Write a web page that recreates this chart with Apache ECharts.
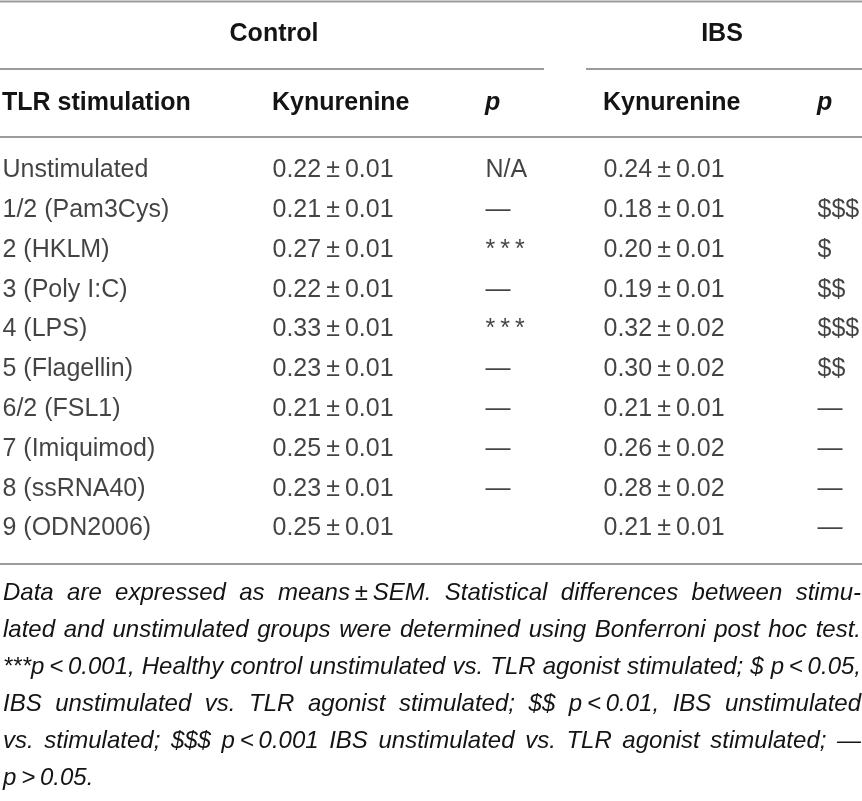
<!DOCTYPE html>
<html><head><meta charset="utf-8">
<script src="https://cdn.jsdelivr.net/npm/echarts@6/dist/echarts.min.js"></script>
<style>html,body{margin:0;padding:0;background:#fff}#c{width:862px;height:801px}</style>
</head><body><div id="c"></div>
<script>
// ---- data ----
const stimulations = ['Unstimulated','1/2 (Pam3Cys)','2 (HKLM)','3 (Poly I:C)','4 (LPS)','5 (Flagellin)','6/2 (FSL1)','7 (Imiquimod)','8 (ssRNA40)','9 (ODN2006)'];
const controlMean = [0.22,0.21,0.27,0.22,0.33,0.23,0.21,0.25,0.23,0.25];
const controlSem  = [0.01,0.01,0.01,0.01,0.01,0.01,0.01,0.01,0.01,0.01];
const controlP    = ['N/A','—','***','—','***','—','—','—','—',''];
const ibsMean     = [0.24,0.18,0.20,0.19,0.32,0.30,0.21,0.26,0.28,0.21];
const ibsSem      = [0.01,0.01,0.01,0.01,0.02,0.02,0.01,0.02,0.02,0.01];
const ibsP        = ['','$$$','$','$$','$$$','$$','—','—','—','—'];
const groupHeaders = ['Control','IBS'];
const columnHeaders = ['TLR stimulation','Kynurenine','p','Kynurenine','p'];
const footnoteLines = [
  ['Data','are','expressed','as','means\u2009±\u2009SEM.','Statistical','differences','between','stimu-'],
  ['lated','and','unstimulated','groups','were','determined','using','Bonferroni','post','hoc','test.'],
  ['***p\u2009<\u20090.001,','Healthy','control','unstimulated','vs.','TLR','agonist','stimulated;','$','p\u2009<\u20090.05,'],
  ['IBS','unstimulated','vs.','TLR','agonist','stimulated;','$$','p\u2009<\u20090.01,','IBS','unstimulated'],
  ['vs.','stimulated;','$$$','p\u2009<\u20090.001','IBS','unstimulated','vs.','TLR','agonist','stimulated;','—'],
  ['p\u2009>\u20090.05.']
];

// ---- layout / style ----
const W = 862;
const FONT = '"Liberation Sans", Arial, Helvetica, sans-serif';
const TXT = '#141414';
const RULE = '#9c9c9c';
const FS = 25, FNS = 24;
const colX = [2, 272, 485, 603, 817];

function fmt(m, s){ return m.toFixed(2) + '\u2009±\u2009' + s.toFixed(2); }
function fmtP(p){ return p === '***' ? '*\u2009*\u2009*' : p; }

const columns = [
  stimulations,
  controlMean.map((m,i)=>fmt(m, controlSem[i])),
  controlP.map(fmtP),
  ibsMean.map((m,i)=>fmt(m, ibsSem[i])),
  ibsP.map(fmtP)
];

const series = columns.map((texts, j) => ({
  type: 'scatter', symbolSize: 1, silent: true,
  itemStyle: {color: 'rgba(0,0,0,0)'},
  data: stimulations.map((s) => [colX[j], s]),
  label: {show: true, position: 'right', distance: 0,
    formatter: p => texts[p.dataIndex],
    fontFamily: FONT, fontSize: FS, color: TXT}
}));

const graphic = [];
function rule(x1, x2, y){
  graphic.push({type:'line', silent:true, shape:{x1, y1:y, x2, y2:y}, style:{stroke:RULE, lineWidth:2}});
}
rule(0, W, 1.5);
rule(0, 544, 69);
rule(586, W, 69);
rule(0, W, 137);
rule(0, W, 564);

function txt(text, x, y, opt){
  graphic.push({type:'text', silent:true, x, y, style: Object.assign({
    text, fill: TXT, fontFamily: FONT, fontSize: FS, fontWeight: 'bold',
    align: 'left', verticalAlign: 'middle'}, opt || {})});
}
txt(groupHeaders[0], 274, 34.5, {align:'center'});
txt(groupHeaders[1], 722, 34.5, {align:'center'});
columnHeaders.forEach((h, j) => {
  txt(h, colX[j], 103.5, h === 'p' ? {fontStyle:'italic'} : {});
});

// footnote, justified
const ctx = document.createElement('canvas').getContext('2d');
ctx.font = 'italic ' + FNS + 'px ' + FONT;
const fnLeft = 3, fnRight = 861, fnTop = 593, fnStep = 37;
footnoteLines.forEach((words, li) => {
  const widths = words.map(w => ctx.measureText(w).width);
  const sum = widths.reduce((a,b)=>a+b, 0);
  const last = li === footnoteLines.length - 1;
  const gap = (last || words.length < 2) ? ctx.measureText(' ').width : (fnRight - fnLeft - sum) / (words.length - 1);
  let x = fnLeft;
  words.forEach((w, k) => {
    graphic.push({type:'text', silent:true, x, y: fnTop + li * fnStep, style:{
      text: w, fill: TXT, fontFamily: FONT, fontSize: FNS, fontStyle: 'italic',
      align: 'left', verticalAlign: 'middle'}});
    x += widths[k] + gap;
  });
});

const chart = echarts.init(document.getElementById('c'), null, {renderer: 'canvas'});
chart.setOption({
  animation: false,
  backgroundColor: '#fff',
  grid: {left: 0, right: 0, top: 150.5, height: 398},
  xAxis: {type: 'value', min: 0, max: W, show: false},
  yAxis: {type: 'category', data: stimulations, inverse: true, show: false},
  series,
  graphic
});
</script></body></html>
